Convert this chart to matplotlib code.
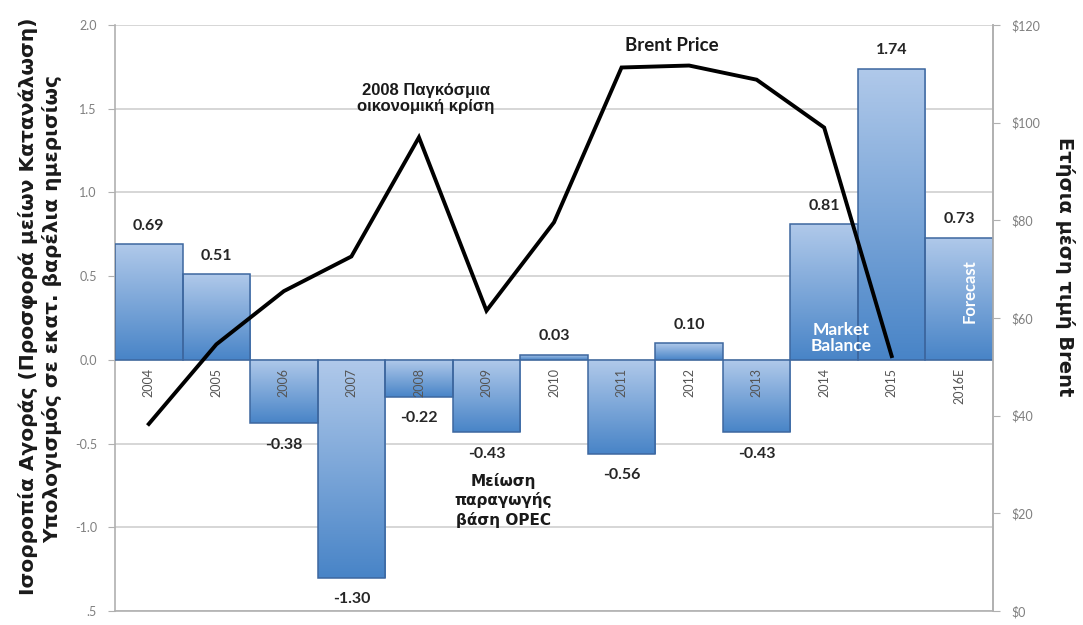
import numpy as np
import matplotlib.pyplot as plt
from matplotlib.colors import LinearSegmentedColormap

# Market balance (million barrels per day) and annual average Brent price
years = ["2004", "2005", "2006", "2007", "2008", "2009", "2010", "2011",
         "2012", "2013", "2014", "2015", "2016E"]
balance = [0.69, 0.51, -0.38, -1.30, -0.22, -0.43, 0.03, -0.56,
           0.10, -0.43, 0.81, 1.74, 0.73]
brent_years = years[:12]
brent_price = [38.3, 54.6, 65.5, 72.6, 97.0, 61.5, 79.6, 111.3,
               111.7, 108.8, 99.0, 52.2]

left_ticks = [-1.5, -1.0, -0.5, 0.0, 0.5, 1.0, 1.5, 2.0]
left_tick_labels = [".5", "-1.0", "-0.5", "0.0", "0.5", "1.0", "1.5", "2.0"]
right_ticks = [0, 20, 40, 60, 80, 100, 120]
right_tick_labels = ["$0", "$20", "$40", "$60", "$80", "$100", "$120"]

GREY = "#7f7f7f"
GRID = "#cfcfcf"
EDGE = "#3d679f"
NUM_FONT = ["Lato", "DejaVu Sans"]
GR_FONT = ["Liberation Sans", "DejaVu Sans"]

fig = plt.figure(figsize=(10.83, 6.25), dpi=100)
ax = fig.add_axes([0.1062, 0.0224, 0.8107, 0.9376])
x = np.arange(len(years))

ax.set_xlim(-0.5, len(years) - 0.5)
ax.set_ylim(-1.5, 2.0)
ax.set_yticks(left_ticks)
ax.set_yticklabels(left_tick_labels, fontsize=9, color=GREY, family=NUM_FONT)
ax.set_xticks([])
ax.yaxis.grid(True, color=GRID, linewidth=1.2)
ax.set_axisbelow(True)
ax.spines["top"].set_visible(False)
for side in ("left", "right", "bottom"):
    ax.spines[side].set_color("#b0b0b0")
    ax.spines[side].set_linewidth(1.2)
ax.tick_params(axis="y", direction="out", length=5, color="#b0b0b0", pad=8)

# Bars with a vertical light-to-dark blue gradient
cmap = LinearSegmentedColormap.from_list("bluegrad", ["#b0c9ea", "#4884c7"])
grad = np.linspace(0, 1, 256).reshape(-1, 1)
bars = ax.bar(x, balance, width=1.0, color="none", edgecolor=EDGE,
              linewidth=1.1, zorder=3)
for b in bars:
    x0, y0 = b.get_x(), b.get_y()
    w, h = b.get_width(), b.get_height()
    ylo, yhi = min(y0, y0 + h), max(y0, y0 + h)
    im = ax.imshow(grad, cmap=cmap, aspect="auto", origin="upper",
                   extent=(x0, x0 + w, ylo, yhi), zorder=2,
                   interpolation="bicubic")
    im.set_clip_path(b)
ax.set_xlim(-0.5, len(years) - 0.5)
ax.set_ylim(-1.5, 2.0)

# Value labels
for xi, v in zip(x, balance):
    off = 0.11 if v >= 0 else -0.13
    ax.text(xi, v + off, f"{v:.2f}", ha="center", va="center",
            fontsize=11.5, fontweight="bold", color="#262626",
            family=NUM_FONT, zorder=5)

# Year labels just beneath the zero line
for xi, yr in zip(x, years):
    ax.text(xi, -0.05, yr, rotation=90, ha="center", va="top",
            fontsize=9, color="#555555", family=NUM_FONT, zorder=4)

# Brent price on the secondary axis
ax2 = ax.twinx()
ax2.set_ylim(0, 120)
ax2.set_yticks(right_ticks)
ax2.set_yticklabels(right_tick_labels, fontsize=9, color=GREY,
                    family=NUM_FONT)
ax2.tick_params(axis="y", direction="out", length=5, color="#b0b0b0", pad=8)
for side in ("top", "left", "bottom"):
    ax2.spines[side].set_visible(False)
ax2.spines["right"].set_color("#b0b0b0")
ax2.spines["right"].set_linewidth(1.2)
ax2.plot(np.arange(len(brent_years)), brent_price, color="black",
         linewidth=2.8, zorder=6, solid_joinstyle="miter")
ax2.set_xlim(-0.5, len(years) - 0.5)

# Annotations
ax.text(7.75, 1.88, "Brent Price", ha="center", va="center", fontsize=13.5,
        fontweight="bold", family=NUM_FONT, color="#1a1a1a")
ax.text(4.1, 1.56, "2008 Παγκόσμια\nοικονομική κρίση", ha="center",
        va="center", fontsize=12, fontweight="bold", family=GR_FONT,
        linespacing=1.1, color="#1a1a1a")
ax.text(5.25, -0.84, "Μείωση\nπαραγωγής\nβάση OPEC", ha="center",
        va="center", fontsize=11, fontweight="bold",
        family=["DejaVu Sans"], linespacing=1.3, color="#1a1a1a")
ax.text(10.25, 0.13, "Market\nBalance", ha="center", va="center",
        fontsize=12.5, fontweight="bold", color="white", family=NUM_FONT,
        linespacing=1.05, zorder=7)
ax.text(12.15, 0.41, "Forecast", ha="center", va="center", rotation=90,
        fontsize=12, fontweight="bold", color="white", family=NUM_FONT,
        zorder=7)

# Axis titles
fig.text(0.026, 0.51, "Ισορροπία Αγοράς (Προσφορά μείων Κατανάλωση)",
         rotation=90, ha="center", va="center", fontsize=14.6,
         fontweight="bold", family=["DejaVu Sans"], color="#1a1a1a")
fig.text(0.048, 0.505, "Υπολογισμός σε εκατ. βαρέλια ημερισίως",
         rotation=90, ha="center", va="center", fontsize=14.5,
         fontweight="bold", family=["DejaVu Sans"], color="#1a1a1a")
fig.text(0.983, 0.573, "Ετήσια μέση τιμή Brent", rotation=270,
         ha="center", va="center", fontsize=14, fontweight="bold",
         family=["DejaVu Sans"], color="#1a1a1a")

fig.savefig("out.png", dpi=100)
